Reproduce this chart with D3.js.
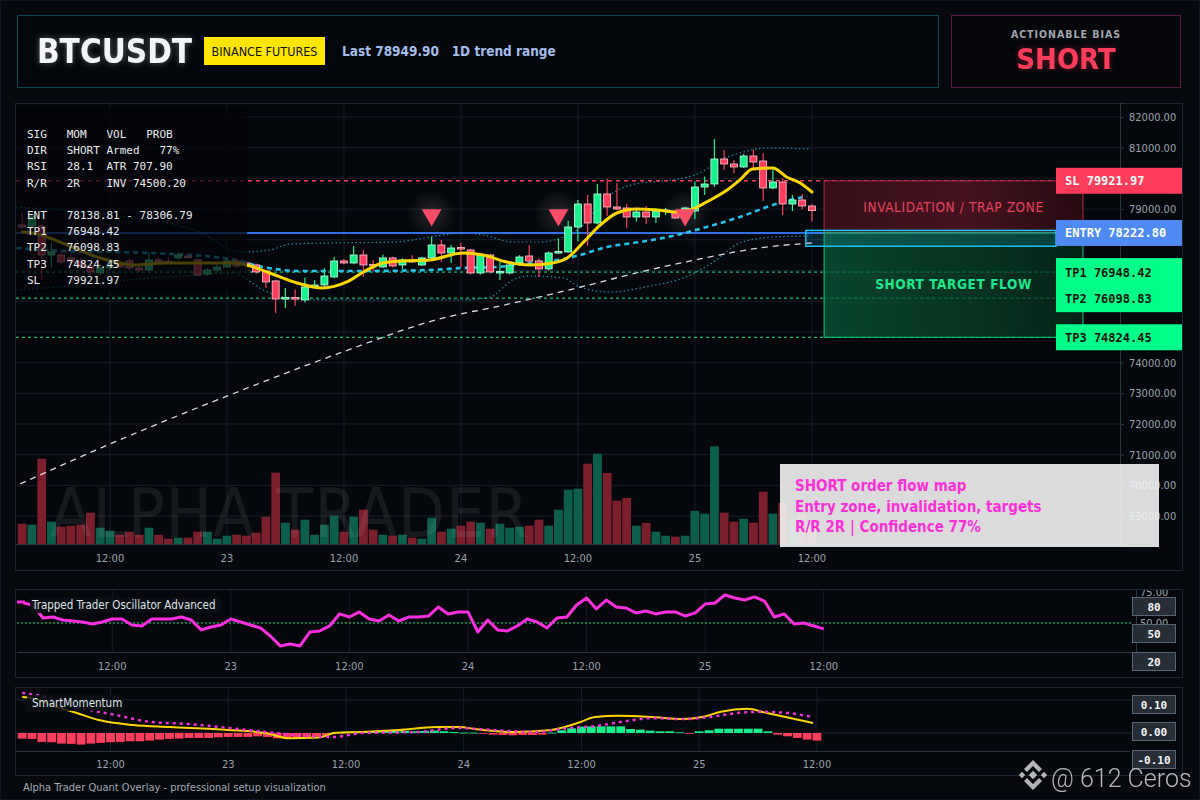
<!DOCTYPE html>
<html>
<head>
<meta charset="utf-8">
<script src="https://cdn.jsdelivr.net/npm/d3@7"></script>
<style>
  html, body { margin: 0; padding: 0; background: #05080c; }
  svg { display: block; font-family: "DejaVu Sans Condensed", "DejaVu Sans", sans-serif; font-stretch: condensed; }
  .mono { font-family: "DejaVu Sans Mono", monospace; font-stretch: normal; }
</style>
</head>
<body>
<svg id="chart" width="1200" height="800"></svg>
<script>
// ---- data (hourly candles, 22nd 03:00 -> 25th 12:00) ----
const candleOpen = [78482,78450,78450,77505,77505,77408,77300,77150,76919,77082,
  77250,77310,77082,77017,77343,77300,77408,77470,77343,76887,
  77017,77115,77310,77245,77180,76984,76659,76105,76120,76040,
  76500,76528,76789,77310,77245,77505,77200,77115,77408,77180,
  77330,77180,77408,77831,77570,77750,77668,76919,77505,76952,
  76919,77245,77473,77310,77050,77580,77603,78417,79166,78548,
  79492,79069,79036,78743,78906,78743,78950,78906,78906,78938,
  79720,79818,80632,80469,80372,80730,80567,79688,79883,79166,
  79297,79101];
const candleHigh = [78873,78900,78520,77900,77600,77500,77420,77250,77200,77250,
  77350,77400,77150,77600,77420,77450,77580,77550,77400,77080,
  77200,77400,77380,77300,77230,77000,76700,76430,76380,76770,
  76680,77080,77450,77380,77800,77668,77340,77520,77450,77400,
  77500,77450,78100,77994,77831,77900,77700,77550,77540,77277,
  77230,77500,77831,77400,77620,78030,78620,79300,79460,79818,
  79980,79850,79166,79000,79100,79036,79036,78960,79080,79900,
  80060,81283,80925,80600,80795,80925,80817,80300,80003,79460,
  79492,79166];
const candleLow = [78350,78400,76690,77100,77200,77200,77050,76850,76850,77000,
  77050,77000,76950,76980,77200,77230,77350,77380,76800,76820,
  76960,77080,77100,77120,76890,76440,75616,75780,75850,75960,
  76450,76480,76750,77200,77200,76800,76980,77080,77100,77050,
  77240,77150,77380,77277,77245,77115,76880,76870,76900,76691,
  76880,77210,77245,76790,77000,77550,77570,77950,77800,78500,
  78780,78960,78390,78590,78515,78548,78808,78680,78850,78680,
  79460,79720,80270,80166,80340,80330,79275,79650,78808,78938,
  78990,78590];
const candleClose = [78417,78776,77505,77603,77277,77277,77115,76952,77082,77147,
  77115,77082,77017,77343,77277,77250,77505,77420,76854,77017,
  77115,77310,77147,77180,76952,76626,76072,76120,76072,76463,
  76528,76821,77310,77245,77505,77180,77180,77408,77147,77343,
  77310,77408,77831,77570,77733,77733,76919,77505,76952,76970,
  77180,77440,77310,77050,77570,77620,78417,79166,78548,79492,
  79069,79004,78743,78906,78743,78938,78971,78710,79036,79720,
  79818,80632,80469,80372,80730,80534,79688,79883,79166,79297,
  79101,78949.90];
const volume = [2030,1930,8530,2230,1730,1830,1930,3130,1630,1330,
  930,1230,930,1630,930,530,630,630,1230,1230,
  530,830,930,830,1130,2730,7130,2130,1430,2430,
  930,1930,2830,1230,2730,3430,1430,930,830,930,
  630,530,2630,1230,1530,1830,2230,2130,1530,2030,
  1630,1730,1830,2430,1830,3430,5430,5530,8030,9030,
  7100,4330,4600,1830,2100,1230,830,730,830,3330,
  3030,9770,3130,2230,2530,2130,5230,3030,4100,2500,
  3000,2000];

// overlay lines: [candle index, price]
const emaPoints = [[0,78255],[1.1,78222],[4.6,77831],[8,77408],[11.4,77180],[14.8,77245],[18.2,77245],
  [21.6,77245],[23.4,77147],[25.4,76919],[28.2,76594],[30.8,76430],[33.3,76626],[35,76952],[37,77245],
  [39,77310],[41.8,77343],[45.2,77570],[47.3,77505],[49.7,77277],[52.1,77180],[54.4,77245],[55.9,77408],
  [57.6,77930],[59.3,78482],[61,78873],[63,79004],[65.1,78971],[67.2,78906],[68.8,79004],[70.2,79232],
  [72.3,79622],[73.6,79948],[74.9,80306],[77,80339],[78.4,80046],[79.8,79850],[81,79557]];
const vwapPoints = [[-0.6,77733],[3.9,77636],[13.1,77570],[21.3,77375],[24.7,77115],[28.2,76984],[35,76984],
  [41.8,77017],[45.2,77082],[48.7,77115],[52.1,77245],[55.5,77375],[57.2,77505],[60,77766],[63.4,77929],
  [66.7,78124],[70.2,78417],[73.6,78743],[77,79134],[80.5,79427]];
const trendPoints = [[-0.2,70047],[9.5,71415],[21.3,72946],[32.6,74314],[42.8,75421],[49,75844],[56.9,76430],
  [63.4,76952],[69.5,77375],[75.6,77733],[81,77896]];
const bandUpper = [[-0.64,79068],[9,78807],[18.2,78254],[22.3,77602],[25.4,77667],[27.5,77863],[31.6,77895],
  [38.4,77928],[41.8,78091],[45.2,78221],[47.3,78156],[50.3,77928],[53.1,77928],[55.5,78091],[57.2,78384],
  [60,79394],[63.4,79850],[66.7,79948],[69.5,80176],[71.6,80599],[73.6,80828],[76.4,80990],[80.8,80958]];
const bandLower = [[-0.64,76364],[5.9,76527],[13.1,76755],[18.2,76853],[21.3,76918],[25.4,76267],[28.2,76071],
  [31.6,76039],[45.2,76039],[48,76136],[50.3,76690],[52.1,76820],[55.5,76755],[57.2,76462],[60.3,76299],
  [64.4,76495],[67.8,76755],[70.9,77276],[73.6,77895],[77,78091],[80.8,78124]];
const signalIndex = [42, 55, 68];
const signalPrice = [78840, 78840, 78840];

// trade levels
const levelNames = ["SL", "ENTRY", "TP1", "TP2", "TP3"];
const levelPrices = [79921.97, 78222.80, 76948.42, 76098.83, 74824.45];
const entryBoxPrices = [78306.79, 77790];

// oscillator (per candle)
const oscValues = [66.1,64.5,54.0,54.8,52.4,51.6,50.8,49.2,50.8,53.2,
  53.2,48.4,47.6,53.2,53.2,53.2,54.8,52.4,44.4,46.8,
  48.4,53.2,50.8,48.4,46.0,39.5,31.5,33.1,31.5,42.7,
  43.5,47.6,57.3,54.8,58.9,53.2,51.6,56.4,51.6,54.8,
  54.8,55.6,62.9,57.3,58.9,58.9,42.7,52.4,44.4,43.5,
  47.6,53.2,50.8,46.0,54.0,54.8,64.5,70.1,61.3,68.5,
  62.9,62.1,58.1,59.7,57.3,58.9,58.9,55.6,58.1,65.3,
  66.1,72.6,70.1,68.5,71.0,67.7,54.8,57.3,49.2,50.0,
  47.6,45.2];

// SmartMomentum histogram (per candle) and its two lines
const momHist = [-0.017,-0.018,-0.027,-0.028,-0.032,-0.033,-0.035,-0.032,-0.030,-0.028,
  -0.027,-0.025,-0.025,-0.023,-0.020,-0.018,-0.017,-0.015,-0.015,-0.015,
  -0.013,-0.012,-0.012,-0.012,-0.010,-0.012,-0.016,-0.018,-0.016,-0.012,
  -0.010,-0.007,0.003,0.004,0.005,0.005,0.005,0.005,0.006,0.006,
  0.005,0.006,0.007,0.005,0.003,0.001,0.001,-0.001,-0.005,-0.006,
  -0.007,-0.006,-0.006,-0.005,0.001,0.008,0.014,0.019,0.020,0.020,
  0.020,0.020,0.012,0.010,0.007,0.005,0.005,0.002,-0.002,0.005,
  0.008,0.013,0.013,0.013,0.013,0.013,0.005,-0.005,-0.010,-0.015,
  -0.020,-0.023];
const momFast = [[0,0.109],[1,0.106],[3.5,0.079],[5.5,0.061],[7.8,0.039],[11.3,0.024],[15.1,0.018],[21,0.009],
  [24.8,0.000],[27.2,-0.016],[30.2,-0.014],[31.8,0],[34.6,0.003],[38.4,0.009],[42.2,0.018],[44.6,0.018],
  [46.1,0.012],[50,0.003],[53.9,0.009],[56.6,0.030],[58.4,0.048],[60.8,0.052],[64.2,0.048],[67.3,0.042],
  [69.3,0.048],[71.2,0.064],[73.9,0.073],[75.8,0.061],[77.8,0.048],[80.6,0.030]];
const momSlow = [[0,0.121],[2.4,0.109],[5.5,0.079],[9.4,0.055],[13.2,0.033],[17,0.027],[21,0.015],[24.8,0.003],
  [28.7,-0.009],[31.8,-0.012],[34.6,0],[40.3,0.003],[44.2,0.015],[48,0.009],[52,0.003],[55.8,0.015],
  [58.4,0.021],[61.6,0.036],[64.2,0.045],[67.3,0.042],[70,0.048],[73.1,0.061],[75.1,0.064],[77.8,0.061],
  [80.6,0.048]];

// axes
const priceTicks = [69000,70000,71000,72000,73000,74000,75000,76000,77000,78000,79000,80000,81000,82000];
const priceTicksCovered = [75000,76000,77000,78000,80000]; // hidden behind the level tags in the reference
const timeTicks = [new Date(2025,10,22,12), new Date(2025,10,23,0), new Date(2025,10,23,12),
  new Date(2025,10,24,0), new Date(2025,10,24,12), new Date(2025,10,25,0), new Date(2025,10,25,12)];
const timeTickLabels = ["12:00", "23", "12:00", "24", "12:00", "25", "12:00"];
const infoLines = [
  "SIG   MOM   VOL   PROB",
  "DIR   SHORT Armed   77%",
  "RSI   28.1  ATR 707.90",
  "R/R   2R    INV 74500.20",
  "",
  "ENT   78138.81 - 78306.79",
  "TP1   76948.42",
  "TP2   76098.83",
  "TP3   74824.45",
  "SL    79921.97"
];
const noteLines = ["SHORT order flow map", "Entry zone, invalidation, targets", "R/R 2R | Confidence 77%"];

// ---- helpers ----
const startTime = new Date(2025, 10, 22, 3, 0);
const tAt = i => new Date(startTime.getTime() + i * 3600e3);
const timeDomain = [new Date(2025,10,22,2,22), new Date(2025,10,26,19,36)];
const zoneStart = new Date(2025,10,25,13,15);
const zoneEnd = new Date(2025,10,26,15,48);
const entryBoxStart = new Date(2025,10,25,11,23);

const UP = "#17f28c", DOWN = "#ff3d5c";
const GRID = "#161f29", FRAME = "#1b2631", AXIS_TXT = "#9aa3ad";

const svg = d3.select("#chart");
const defs = svg.append("defs");

const glow = defs.append("filter").attr("id", "glow").attr("x", "-20%").attr("y", "-40%").attr("width", "140%").attr("height", "180%");
glow.append("feGaussianBlur").attr("in", "SourceGraphic").attr("stdDeviation", 3).attr("result", "b");
glow.append("feColorMatrix").attr("in", "b").attr("type", "matrix")
  .attr("values", "1 0 0 0 0  0 1 0 0 0  0 0 1 0 0  0 0 0 0.35 0").attr("result", "bf");
const gm = glow.append("feMerge");
gm.append("feMergeNode").attr("in", "bf");
gm.append("feMergeNode").attr("in", "SourceGraphic");

const halo = defs.append("radialGradient").attr("id", "halo");
halo.append("stop").attr("offset", "0%").attr("stop-color", "#ffffff").attr("stop-opacity", 0.13);
halo.append("stop").attr("offset", "100%").attr("stop-color", "#ffffff").attr("stop-opacity", 0);

const redZone = defs.append("linearGradient").attr("id", "redZone");
redZone.append("stop").attr("offset", "0%").attr("stop-color", "#3b0f19");
redZone.append("stop").attr("offset", "55%").attr("stop-color", "#4a1521");
redZone.append("stop").attr("offset", "100%").attr("stop-color", "#2a0a12");
const greenZone = defs.append("linearGradient").attr("id", "greenZone");
greenZone.append("stop").attr("offset", "0%").attr("stop-color", "#0a4a30");
greenZone.append("stop").attr("offset", "60%").attr("stop-color", "#083722");
greenZone.append("stop").attr("offset", "100%").attr("stop-color", "#05261a");

defs.append("clipPath").attr("id", "clipMain").append("rect").attr("x", 16).attr("y", 103).attr("width", 1104).attr("height", 441);
defs.append("clipPath").attr("id", "clipOsc").append("rect").attr("x", 16).attr("y", 590).attr("width", 1166).attr("height", 87);

// page frame
svg.append("rect").attr("x", 0.5).attr("y", 0.5).attr("width", 1199).attr("height", 799)
  .attr("fill", "#05080c").attr("stroke", "#101720");

// ---- header ----
svg.append("rect").attr("x", 17.5).attr("y", 15.5).attr("width", 921).attr("height", 72)
  .attr("fill", "#03060a").attr("stroke", "#0f4654");
svg.append("text").attr("x", 37).attr("y", 63).attr("fill", "#f2f5f8").attr("font-size", 33)
  .attr("font-weight", "bold").attr("filter", "url(#glow)").text("BTCUSDT");
svg.append("rect").attr("x", 204).attr("y", 37).attr("width", 121).attr("height", 28).attr("fill", "#ffe600");
svg.append("text").attr("x", 264.5).attr("y", 55.5).attr("text-anchor", "middle").attr("fill", "#111")
  .attr("font-size", 12.5).text("BINANCE FUTURES");
svg.append("text").attr("x", 342).attr("y", 56).attr("fill", "#a3bdec").attr("font-size", 13.5)
  .attr("font-weight", "bold").attr("xml:space", "preserve").style("white-space", "pre")
  .text("Last 78949.90   1D trend range");

svg.append("rect").attr("x", 951.5).attr("y", 15.5).attr("width", 229).attr("height", 72)
  .attr("fill", "#04060a").attr("stroke", "#5a1a45");
svg.append("text").attr("x", 1066).attr("y", 38).attr("text-anchor", "middle").attr("fill", "#a0a7b0")
  .attr("font-size", 10.5).attr("font-weight", "bold").attr("letter-spacing", 1).text("ACTIONABLE BIAS");
svg.append("text").attr("x", 1066).attr("y", 69).attr("text-anchor", "middle").attr("fill", "#ff3d5a")
  .attr("font-size", 29).attr("font-weight", "bold").attr("filter", "url(#glow)").text("SHORT");

// ---- main panel ----
const xMain = d3.scaleTime().domain(timeDomain).range([16, 1120]);
const yPrice = d3.scaleLinear().domain([68090, 82456]).range([544, 103]);
const yVol = d3.scaleLinear().domain([0, 10400]).range([544, 440]);

svg.append("rect").attr("x", 15.5).attr("y", 103.5).attr("width", 1167).attr("height", 467)
  .attr("fill", "#04070b").attr("stroke", FRAME);

const grid = svg.append("g");
grid.selectAll(".hg").data(priceTicks).join("line")
  .attr("x1", 16).attr("x2", 1120).attr("y1", d => yPrice(d)).attr("y2", d => yPrice(d)).attr("stroke", GRID);
grid.selectAll(".vg").data(timeTicks).join("line")
  .attr("x1", d => xMain(d)).attr("x2", d => xMain(d)).attr("y1", 103).attr("y2", 544).attr("stroke", GRID);

const plot = svg.append("g").attr("clip-path", "url(#clipMain)");

// volume
plot.append("g").selectAll("rect").data(volume).join("rect")
  .attr("x", (d, i) => xMain(tAt(i)) - 4.4).attr("width", 8.8)
  .attr("y", d => yVol(d)).attr("height", d => 544 - yVol(d))
  .attr("fill", (d, i) => candleClose[i] >= candleOpen[i] ? "#0d5f4c" : "#7c1f2d");

// watermark
plot.append("text").attr("x", 50).attr("y", 537).attr("font-size", 68).attr("fill", "#ffffff")
  .attr("opacity", 0.07).attr("letter-spacing", 1).text("ALPHA TRADER");

const priceLine = d3.line().x(d => xMain(tAt(d[0]))).y(d => yPrice(d[1])).curve(d3.curveMonotoneX);

plot.append("path").attr("d", priceLine(bandUpper)).attr("fill", "none").attr("stroke", "#1f8aa3")
  .attr("stroke-width", 1.2).attr("stroke-dasharray", "1.5,2.5");
plot.append("path").attr("d", priceLine(bandLower)).attr("fill", "none").attr("stroke", "#1f8aa3")
  .attr("stroke-width", 1.2).attr("stroke-dasharray", "1.5,2.5");
plot.append("path").attr("d", priceLine(trendPoints)).attr("fill", "none").attr("stroke", "#d9dde2")
  .attr("stroke-width", 1.3).attr("stroke-dasharray", "6,5");

// level lines
const lvY = levelPrices.map(p => yPrice(p));
plot.append("line").attr("x1", 16).attr("x2", 1056).attr("y1", lvY[0]).attr("y2", lvY[0])
  .attr("stroke", "#ff3d5a").attr("stroke-width", 1.6).attr("stroke-dasharray", "4,4");
plot.append("line").attr("x1", 16).attr("x2", 1056).attr("y1", lvY[1]).attr("y2", lvY[1])
  .attr("stroke", "#2f6fe8").attr("stroke-width", 2);
[2, 3, 4].forEach(k => {
  plot.append("line").attr("x1", 16).attr("x2", 1056).attr("y1", lvY[k]).attr("y2", lvY[k])
    .attr("stroke", "#19e68a").attr("stroke-width", 1).attr("stroke-dasharray", "3,3");
});

// cyan dashed
plot.append("path").attr("d", priceLine(vwapPoints)).attr("fill", "none").attr("stroke", "#22c4ee")
  .attr("stroke-width", 2.6).attr("stroke-dasharray", "5,4");

// candles
const cg = plot.append("g");
candleOpen.forEach((o, i) => {
  const c = candleClose[i], up = c >= o;
  const x = xMain(tAt(i));
  const col = up ? UP : DOWN;
  cg.append("line").attr("x1", x).attr("x2", x).attr("y1", yPrice(candleHigh[i])).attr("y2", yPrice(candleLow[i]))
    .attr("stroke", col).attr("stroke-width", 1.2);
  const yTop = yPrice(Math.max(o, c));
  const h = Math.max(1.6, Math.abs(yPrice(o) - yPrice(c)));
  cg.append("rect").attr("x", x - 3.5).attr("y", yTop).attr("width", 7).attr("height", h)
    .attr("fill", col).attr("stroke", up ? "#c8ffe2" : "#ffc9d2").attr("stroke-width", 0.8);
});

// yellow trend line
plot.append("path").attr("d", priceLine(emaPoints)).attr("fill", "none").attr("stroke", "#ffd600")
  .attr("stroke-width", 3).attr("stroke-linecap", "round");

// signal triangles
signalIndex.forEach((si, k) => {
  const x = xMain(tAt(si)), y = yPrice(signalPrice[k]);
  plot.append("circle").attr("cx", x).attr("cy", y).attr("r", 24).attr("fill", "url(#halo)");
  plot.append("path").attr("d", d3.symbol(d3.symbolTriangle, 170)())
    .attr("transform", `translate(${x},${y + 1}) rotate(180)`).attr("fill", "#ff4d68");
});

// info panel
svg.append("rect").attr("x", 16).attr("y", 108).attr("width", 231).attr("height", 184)
  .attr("fill", "#03050a").attr("opacity", 0.72);
svg.append("g").selectAll("text").data(infoLines).join("text")
  .attr("class", "mono").attr("x", 27).attr("y", (d, i) => 138 + i * 16.2)
  .attr("fill", "#e9ecef").attr("font-size", 11).attr("xml:space", "preserve").style("white-space", "pre")
  .text(d => d);

// zones
const zx0 = xMain(zoneStart), zx1 = xMain(zoneEnd);
svg.append("rect").attr("x", zx0).attr("y", lvY[0]).attr("width", zx1 - zx0).attr("height", lvY[1] - lvY[0])
  .attr("fill", "url(#redZone)").attr("opacity", 0.92).attr("stroke", "#c2344d").attr("stroke-width", 1);
svg.append("rect").attr("x", zx0).attr("y", lvY[1]).attr("width", zx1 - zx0).attr("height", lvY[4] - lvY[1])
  .attr("fill", "url(#greenZone)").attr("opacity", 0.92).attr("stroke", "#19d983").attr("stroke-width", 1);
[2, 3].forEach(k => {
  svg.append("line").attr("x1", zx0).attr("x2", 1056).attr("y1", lvY[k]).attr("y2", lvY[k])
    .attr("stroke", "#19e68a").attr("stroke-opacity", 0.35).attr("stroke-dasharray", "3,3");
});
svg.append("text").attr("x", (zx0 + zx1) / 2).attr("y", (lvY[0] + lvY[1]) / 2 + 5).attr("text-anchor", "middle")
  .attr("fill", "#e8435e").attr("font-size", 13.5).attr("letter-spacing", 0.6).text("INVALIDATION / TRAP ZONE");
svg.append("text").attr("x", (zx0 + zx1) / 2).attr("y", lvY[2] + 17).attr("text-anchor", "middle")
  .attr("fill", "#1ee88f").attr("font-size", 13.5).attr("font-weight", "bold").attr("letter-spacing", 0.6)
  .text("SHORT TARGET FLOW");

// entry box
const ebx = xMain(entryBoxStart);
svg.append("rect").attr("x", ebx).attr("y", yPrice(entryBoxPrices[0])).attr("width", 1056 - ebx)
  .attr("height", yPrice(entryBoxPrices[1]) - yPrice(entryBoxPrices[0]))
  .attr("fill", "#1ec8ff").attr("fill-opacity", 0.16).attr("stroke", "#1ec8ff").attr("stroke-width", 1.4);

// time axis line of the main panel (under the note box)
svg.append("line").attr("x1", 16).attr("x2", 1120).attr("y1", 544.5).attr("y2", 544.5).attr("stroke", "#2a3541");

// price axis
const pAxis = svg.append("g").attr("transform", "translate(1120,0)")
  .call(d3.axisRight(yPrice).tickValues(priceTicks).tickSize(4).tickPadding(5)
    .tickFormat(d => priceTicksCovered.includes(d) ? "" : d3.format(".2f")(d)));
pAxis.select(".domain").attr("stroke", "#2a3541");
pAxis.selectAll(".tick line").attr("stroke", "#2a3541");
pAxis.selectAll("text").attr("fill", AXIS_TXT).attr("font-size", 11)
  .attr("font-family", "'DejaVu Sans Condensed','DejaVu Sans',sans-serif");
pAxis.selectAll(".tick").filter(d => priceTicksCovered.includes(d)).select("text").remove();

// annotation box
svg.append("rect").attr("x", 780).attr("y", 464).attr("width", 379).attr("height", 83)
  .attr("fill", "#f3f3f3").attr("opacity", 0.9);
svg.append("g").selectAll("text").data(noteLines).join("text")
  .attr("x", 795).attr("y", (d, i) => 491 + i * 20.5).attr("fill", "#ff2fd8")
  .attr("font-size", 15).attr("font-weight", "bold").text(d => d);

// right level labels
const labelBox = (y0, h, fill, txtFill, lines) => {
  svg.append("rect").attr("x", 1056).attr("y", y0).attr("width", 126).attr("height", h).attr("fill", fill);
  lines.forEach(l => svg.append("text").attr("class", "mono").attr("x", 1065).attr("y", l[0] + 4.5)
    .attr("fill", txtFill).attr("font-size", 12).attr("font-weight", "bold").text(l[1]));
};
const fmt2 = d3.format(".2f");
labelBox(lvY[0] - 13, 26, "#ff3d5a", "#ffffff", [[lvY[0], `SL ${fmt2(levelPrices[0])}`]]);
labelBox(lvY[1] - 13, 26, "#4f8af2", "#ffffff", [[lvY[1], `ENTRY ${fmt2(levelPrices[1])}`]]);
labelBox(lvY[2] - 14, lvY[3] - lvY[2] + 28, "#00ff88", "#04130c",
  [[lvY[2], `TP1 ${fmt2(levelPrices[2])}`], [lvY[3], `TP2 ${fmt2(levelPrices[3])}`]]);
labelBox(lvY[4] - 13, 26, "#00ff88", "#04130c", [[lvY[4], `TP3 ${fmt2(levelPrices[4])}`]]);

// time labels main
svg.append("g").selectAll("text").data(timeTicks).join("text")
  .attr("x", d => xMain(d)).attr("y", 562).attr("text-anchor", "middle").attr("fill", AXIS_TXT)
  .attr("font-size", 11).text((d, i) => timeTickLabels[i]);

// ---- oscillator panel ----
const xOsc = d3.scaleTime().domain(timeDomain).range([17, 1136]);
const yOsc = d3.scaleLinear().domain([26.6, 77.4]).range([652, 589]);
svg.append("rect").attr("x", 15.5).attr("y", 589.5).attr("width", 1167).attr("height", 88)
  .attr("fill", "#04070b").attr("stroke", FRAME);
svg.append("g").selectAll("line").data(timeTicks).join("line")
  .attr("x1", d => xOsc(d)).attr("x2", d => xOsc(d)).attr("y1", 590).attr("y2", 652).attr("stroke", GRID);
svg.append("line").attr("x1", 17).attr("x2", 1136).attr("y1", 652.5).attr("y2", 652.5).attr("stroke", "#2a3541");
svg.append("line").attr("x1", 1136.5).attr("x2", 1136.5).attr("y1", 590).attr("y2", 652).attr("stroke", "#2a3541");
svg.append("line").attr("x1", 17).attr("x2", 1132).attr("y1", yOsc(50)).attr("y2", yOsc(50))
  .attr("stroke", "#19e68a").attr("stroke-width", 1).attr("stroke-dasharray", "2,2");
svg.append("g").attr("clip-path", "url(#clipOsc)").selectAll("text").data([75, 50]).join("text")
  .attr("x", 1140).attr("y", d => yOsc(d) + 4).attr("fill", AXIS_TXT).attr("font-size", 11).text(d => fmt2(d));
svg.append("g").selectAll("text").data(timeTicks).join("text")
  .attr("x", d => xOsc(d)).attr("y", 670).attr("text-anchor", "middle").attr("fill", AXIS_TXT)
  .attr("font-size", 11).text((d, i) => timeTickLabels[i]);
svg.append("path").datum(oscValues)
  .attr("d", d3.line().x((d, i) => xOsc(tAt(i))).y(d => yOsc(d)))
  .attr("fill", "none").attr("stroke", "#ff2fe0").attr("stroke-width", 3).attr("stroke-linejoin", "round");
svg.append("rect").attr("x", 30).attr("y", 597).attr("width", 191).attr("height", 16).attr("fill", "#0b0f15").attr("opacity", 0.9);
svg.append("rect").attr("x", 17).attr("y", 600.5).attr("width", 8).attr("height", 3).attr("fill", "#ff2fe0");
svg.append("text").attr("x", 32).attr("y", 609).attr("fill", "#dfe3e8").attr("font-size", 11.5)
  .text("Trapped Trader Oscillator Advanced");

const sideBox = (y0, txt) => {
  svg.append("rect").attr("x", 1132.5).attr("y", y0 + 0.5).attr("width", 43).attr("height", 18)
    .attr("fill", "#262d36").attr("stroke", "#5a6572");
  svg.append("text").attr("class", "mono").attr("x", 1154).attr("y", y0 + 13.5).attr("text-anchor", "middle")
    .attr("fill", "#f2f4f6").attr("font-size", 11).attr("font-weight", "bold").text(txt);
};
sideBox(597, "80");
sideBox(624, "50");
sideBox(652, "20");

// ---- SmartMomentum panel ----
const xMom = d3.scaleTime().domain(timeDomain).range([16, 1127]);
const yMom = d3.scaleLinear().domain([-0.0545, 0.139]).range([751, 687]);
svg.append("rect").attr("x", 15.5).attr("y", 687.5).attr("width", 1167).attr("height", 88)
  .attr("fill", "#04070b").attr("stroke", FRAME);
svg.append("g").selectAll("line").data([0.1, 0]).join("line")
  .attr("x1", 16).attr("x2", 1132).attr("y1", d => yMom(d)).attr("y2", d => yMom(d)).attr("stroke", "#1c2631");
svg.append("g").selectAll("line").data(timeTicks).join("line")
  .attr("x1", d => xMom(d)).attr("x2", d => xMom(d)).attr("y1", 688).attr("y2", 751).attr("stroke", GRID);
svg.append("line").attr("x1", 16).attr("x2", 1130).attr("y1", 751.5).attr("y2", 751.5).attr("stroke", "#2a3541");
svg.append("g").selectAll("text").data(timeTicks).join("text")
  .attr("x", d => xMom(d)).attr("y", 768).attr("text-anchor", "middle").attr("fill", AXIS_TXT)
  .attr("font-size", 11).text((d, i) => timeTickLabels[i]);
svg.append("g").selectAll("rect").data(momHist).join("rect")
  .attr("x", (d, i) => xMom(tAt(i)) - 4.4).attr("width", 8.8)
  .attr("y", d => Math.min(yMom(d), yMom(0))).attr("height", d => Math.max(0.8, Math.abs(yMom(d) - yMom(0))))
  .attr("fill", d => d >= 0 ? "#16f08a" : "#ff3d5c");
const momLine = d3.line().x(d => xMom(tAt(d[0]))).y(d => yMom(d[1])).curve(d3.curveMonotoneX);
svg.append("path").attr("d", momLine(momFast)).attr("fill", "none").attr("stroke", "#ffd600").attr("stroke-width", 2);
svg.append("path").attr("d", momLine(momSlow)).attr("fill", "none").attr("stroke", "#ff2fe0")
  .attr("stroke-width", 2.5).attr("stroke-dasharray", "3,4");
svg.append("rect").attr("x", 27).attr("y", 695).attr("width", 97).attr("height", 16).attr("fill", "#0b0f15").attr("opacity", 0.85);
svg.append("text").attr("x", 32).attr("y", 707).attr("fill", "#dfe3e8").attr("font-size", 11.5).text("SmartMomentum");
sideBox(695, "0.10");
sideBox(722, "0.00");
sideBox(750, "-0.10");

// footer
svg.append("text").attr("x", 23).attr("y", 791).attr("fill", "#a3abb6").attr("font-size", 11)
  .text("Alpha Trader Quant Overlay - professional setup visualization");

// corner watermark
const wm = svg.append("g").attr("fill", "#d4d4d4").attr("opacity", 0.85);
const dia = (cx, cy, s) => wm.append("rect").attr("x", cx - s / 2).attr("y", cy - s / 2).attr("width", s).attr("height", s)
  .attr("transform", `rotate(45 ${cx} ${cy})`);
dia(1033, 775, 6);
dia(1022, 775, 4.5);
dia(1044, 775, 4.5);
wm.append("path").attr("d", "M1033,760 l9,9 -3,3 -6,-6 -6,6 -3,-3 z");
wm.append("path").attr("d", "M1033,790 l9,-9 -3,-3 -6,6 -6,-6 -3,3 z");
wm.append("text").attr("x", 1051).attr("y", 787).attr("font-family", "Roboto, 'DejaVu Sans', sans-serif")
  .attr("font-stretch", "normal").attr("font-weight", 300).attr("font-size", 25).text("@ 612 Ceros");
</script>
</body>
</html>
